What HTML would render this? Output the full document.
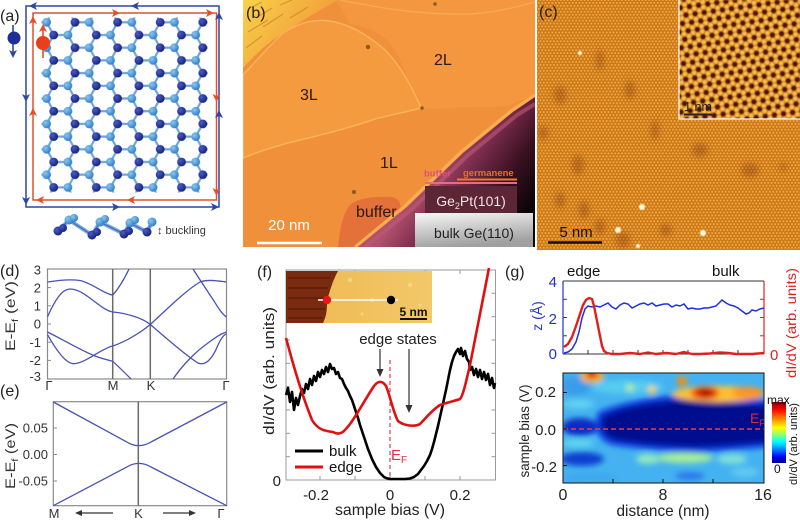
<!DOCTYPE html>
<html><head><meta charset="utf-8">
<style>
html,body{margin:0;padding:0;background:#fff;width:800px;height:522px;overflow:hidden}
svg{display:block}
text{font-family:"Liberation Sans",Arial,sans-serif}
</style></head><body>
<svg xmlns="http://www.w3.org/2000/svg" width="800" height="522" viewBox="0 0 800 522">
<defs>
<radialGradient id="gAd" cx="0.35" cy="0.35" r="0.7"><stop offset="0" stop-color="#4a5cc4"/><stop offset="1" stop-color="#141e78"/></radialGradient>
<radialGradient id="gAl" cx="0.35" cy="0.35" r="0.7"><stop offset="0" stop-color="#8cc6f0"/><stop offset="1" stop-color="#2c7cc4"/></radialGradient>
<pattern id="hc" patternUnits="userSpaceOnUse" x="67.9" y="22.3" width="42.6" height="25.4">
<path d="M7.1,0H21.3L28.4,12.7H42.6M28.4,12.7L21.3,25.4H7.1L0,12.7L7.1,0" fill="none" stroke="#6ea4dc" stroke-width="2.2"/>
<circle cx="7.1" cy="0" r="4.4" fill="url(#gAd)"/>
<circle cx="7.1" cy="25.4" r="4.4" fill="url(#gAd)"/>
<circle cx="28.4" cy="12.7" r="4.4" fill="url(#gAd)"/>
<circle cx="21.3" cy="0" r="4.4" fill="url(#gAl)"/>
<circle cx="21.3" cy="25.4" r="4.4" fill="url(#gAl)"/>
<circle cx="0" cy="12.7" r="4.4" fill="url(#gAl)"/>
<circle cx="42.6" cy="12.7" r="4.4" fill="url(#gAl)"/>
</pattern>
<pattern id="cdots" patternUnits="userSpaceOnUse" x="537" y="0" width="3.4" height="5.9">
<rect width="3.4" height="5.9" fill="#d07818"/>
<circle cx="0" cy="0" r="0.95" fill="#eeb048"/><circle cx="3.4" cy="0" r="0.95" fill="#eeb048"/>
<circle cx="0" cy="5.9" r="0.95" fill="#eeb048"/><circle cx="3.4" cy="5.9" r="0.95" fill="#eeb048"/>
<circle cx="1.7" cy="2.95" r="0.95" fill="#eeb048"/>
</pattern>
<pattern id="inpat" patternUnits="userSpaceOnUse" x="679" y="0" width="9.2" height="15.9" patternTransform="rotate(-8 740 60)">
<rect width="9.2" height="15.9" fill="#dc8024"/>
<circle cx="4.6" cy="2.65" r="2.0" fill="#f4c050"/><circle cx="0" cy="5.3" r="2.0" fill="#f4c050"/><circle cx="9.2" cy="5.3" r="2.0" fill="#f4c050"/>
<circle cx="0" cy="10.6" r="2.0" fill="#f4c050"/><circle cx="9.2" cy="10.6" r="2.0" fill="#f4c050"/><circle cx="4.6" cy="13.25" r="2.0" fill="#f4c050"/>
<circle cx="0" cy="0" r="2.7" fill="#4a1600"/><circle cx="9.2" cy="0" r="2.7" fill="#4a1600"/><circle cx="4.6" cy="7.95" r="2.7" fill="#4a1600"/>
<circle cx="0" cy="15.9" r="2.7" fill="#4a1600"/><circle cx="9.2" cy="15.9" r="2.7" fill="#4a1600"/>
</pattern>
<filter id="bl1"><feGaussianBlur stdDeviation="0.6"/></filter>
<filter id="bl3" x="-30%" y="-30%" width="160%" height="160%"><feGaussianBlur stdDeviation="3"/></filter>
<filter id="bl2" x="-30%" y="-30%" width="160%" height="160%"><feGaussianBlur stdDeviation="2"/></filter>
<linearGradient id="gDark" gradientUnits="userSpaceOnUse" x1="430" y1="170" x2="515" y2="230">
<stop offset="0" stop-color="#b0506c"/><stop offset="0.3" stop-color="#7a2c4c"/><stop offset="0.65" stop-color="#3a1020"/><stop offset="1" stop-color="#0c0408"/></linearGradient>
<linearGradient id="gBulk" x1="0" y1="0" x2="0.3" y2="1"><stop offset="0" stop-color="#f8f8f8"/><stop offset="1" stop-color="#a0a0a0"/></linearGradient>
<linearGradient id="gTL" gradientUnits="userSpaceOnUse" x1="243" y1="0" x2="300" y2="45"><stop offset="0" stop-color="#f8d24c"/><stop offset="1" stop-color="#f2a43a"/></linearGradient>
<linearGradient id="gIns" x1="0" y1="0" x2="1" y2="0"><stop offset="0" stop-color="#e09030"/><stop offset="0.25" stop-color="#f0bc58"/><stop offset="1" stop-color="#f2c868"/></linearGradient>
<linearGradient id="gJet" x1="0" y1="0" x2="0" y2="1">
<stop offset="0" stop-color="#800000"/><stop offset="0.12" stop-color="#ff0000"/><stop offset="0.3" stop-color="#ff9900"/><stop offset="0.42" stop-color="#ffff00"/><stop offset="0.55" stop-color="#80ff80"/><stop offset="0.65" stop-color="#00ffff"/><stop offset="0.78" stop-color="#0080ff"/><stop offset="0.9" stop-color="#0000ff"/><stop offset="1" stop-color="#00008f"/></linearGradient>
<clipPath id="cLat"><rect x="41.5" y="17.5" width="166.3" height="175"/></clipPath>
<clipPath id="cB"><rect x="243" y="0" width="292" height="247"/></clipPath>
<clipPath id="cC"><rect x="537" y="0" width="263" height="250"/></clipPath>
<clipPath id="cIn"><rect x="679" y="0" width="121" height="119"/></clipPath>
<clipPath id="cHM"><rect x="563" y="373" width="201" height="110"/></clipPath>
<clipPath id="cFi"><rect x="286" y="271" width="146" height="52"/></clipPath>
</defs>

<rect width="800" height="522" fill="#fff"/>

<!-- ===== (a) ===== -->
<text x="0" y="21" font-size="16" fill="#222">(a)</text>
<rect x="26" y="6" width="193" height="201" fill="none" stroke="#2c46a8" stroke-width="1.5"/>
<rect x="33" y="13" width="183.5" height="187" fill="none" stroke="#e0502a" stroke-width="1.5"/>
<g fill="#2c46a8">
<polygon points="29,6 37,2 35,6 37,10"/><polygon points="131,6 139,2 137,6 139,10"/>
<polygon points="120,207 112,203 114,207 112,211"/><polygon points="219,207 211,203 213,207 211,211"/>
<polygon points="219,12 215,20 219,18 223,20"/><polygon points="219,110 215,118 219,116 223,118"/>
<polygon points="26,102 22,94 26,96 30,94"/><polygon points="26,205 22,197 26,199 30,197"/>
</g>
<g fill="#e0502a">
<polygon points="120,13 112,9 114,13 112,17"/><polygon points="214,13 206,9 208,13 206,17"/>
<polygon points="216.5,102 212.5,94 216.5,96 220.5,94"/><polygon points="216.5,196 212.5,188 216.5,190 220.5,188"/>
<polygon points="127,200 135,196 133,200 135,204"/><polygon points="36,200 44,196 42,200 44,204"/>
<polygon points="33,108 29,116 33,114 37,116"/><polygon points="33,16 29,24 33,22 37,24"/>
</g>
<rect x="41.5" y="17.5" width="166.3" height="175" fill="url(#hc)" clip-path="url(#cLat)"/>
<line x1="13" y1="25" x2="13" y2="54" stroke="#2c46a8" stroke-width="1.6"/>
<polygon points="13,58 9,50 13,52 17,50" fill="#2c46a8"/>
<circle cx="14" cy="38" r="6.5" fill="#1e2f9a"/>
<line x1="43" y1="58" x2="43" y2="28" stroke="#e0502a" stroke-width="1.6"/>
<polygon points="43,24 39,32 43,30 47,32" fill="#e0502a"/>
<circle cx="43" cy="43" r="7" fill="#e8401c"/>
<!-- buckling -->
<polyline points="58,231 69,220 92,235 100,222 124,234 130,223 147,232 152,222" fill="none" stroke="#7aa8dc" stroke-width="4"/>
<polyline points="58,231 69,220 92,235 100,222 124,234 130,223 147,232 152,222" fill="none" stroke="#3a62b0" stroke-width="1"/>
<g fill="url(#gAl)"><circle cx="69" cy="220" r="4.5"/><circle cx="100" cy="222" r="4.5"/><circle cx="130" cy="223" r="4.5"/><circle cx="152" cy="222" r="4.5"/><circle cx="74" cy="218" r="4"/><circle cx="105" cy="219" r="4"/><circle cx="135" cy="220" r="4"/></g>
<g fill="url(#gAd)"><circle cx="58" cy="231" r="4.5"/><circle cx="92" cy="235" r="4.5"/><circle cx="124" cy="234" r="4.5"/><circle cx="147" cy="232" r="4.5"/><circle cx="63" cy="228" r="4"/><circle cx="97" cy="232" r="4"/><circle cx="129" cy="231" r="4"/></g>
<text x="157" y="234" font-size="11" fill="#333">↕ buckling</text>

<!-- ===== (b) ===== -->
<g clip-path="url(#cB)">
<rect x="243" y="0" width="292" height="247" fill="#f0903a"/>
<path d="M335,0 L535,0 L535,97 C525,99 520,100 512,104 C500,108 485,107 468,107 C450,108 435,110 421,108 C412,90 405,70 395,50 C385,35 370,27 350,24 C345,15 340,6 335,0 Z" fill="#f4973e"/>
<path d="M340,0 C380,8 420,15 470,14 C500,12 520,6 535,2" fill="none" stroke="#f7ac55" stroke-width="1.2"/>
<path d="M243,0 L338,0 C320,10 300,22 280,35 C265,45 252,58 243,68 Z" fill="url(#gTL)"/>
<g stroke="#c27020" stroke-width="1.2" opacity="0.55">
<line x1="250" y1="8" x2="262" y2="2"/><line x1="256" y1="18" x2="272" y2="8"/><line x1="263" y1="27" x2="283" y2="14"/><line x1="248" y1="32" x2="268" y2="20"/><line x1="246" y1="48" x2="262" y2="36"/><line x1="280" y1="5" x2="292" y2="0"/><line x1="290" y1="18" x2="308" y2="7"/>
</g>
<path d="M243,75 C255,62 270,45 283,33 C300,22 318,18 335,22 C352,26 368,35 385,50 C398,63 408,80 415,95 C418,101 420,105 421,108 C410,111 395,114 375,119 C355,126 330,133 300,140 C275,146 255,153 243,158 Z" fill="#f49b40" stroke="#f9b35a" stroke-width="1.5"/>
<path d="M338,247 C340,230 342,215 350,205 C358,198 375,196 392,197 C400,199 403,205 398,218 C394,230 390,240 388,247 Z" fill="#e4703a"/>
<path d="M358,247 L407,207 L463,153 L513,112 L535,97 L535,247 Z" fill="url(#gDark)"/>
<path d="M365,247 L412,209 L467,156 L517,115 L535,104" fill="none" stroke="#c05a78" stroke-width="4" opacity="0.6"/>
<path d="M355,247 L405,206 L461,152 L511,111 L535,95" fill="none" stroke="#f8ae55" stroke-width="3"/>
<g fill="#8a5a20"><circle cx="368" cy="47" r="2.2"/><circle cx="422" cy="108" r="1.8"/><circle cx="354" cy="192" r="2"/><circle cx="435" cy="4" r="1.8"/></g>
</g>
<rect x="415" y="213" width="118" height="34" fill="url(#gBulk)"/>
<rect x="425" y="186" width="92" height="27" fill="#5c2636"/>
<line x1="425" y1="183" x2="517" y2="183" stroke="#e86a88" stroke-width="2"/>
<line x1="457" y1="179.5" x2="517" y2="179.5" stroke="#f07a2a" stroke-width="2"/>
<text x="424" y="176.5" font-size="9.5" font-weight="bold" fill="#e0507a">buffer</text>
<text x="463" y="176" font-size="9.5" font-weight="bold" fill="#f07020">germanene</text>
<text x="471" y="206" font-size="14" fill="#f0e4e4" text-anchor="middle">Ge<tspan font-size="9" dy="3">2</tspan><tspan dy="-3">Pt(101)</tspan></text>
<text x="474" y="238" font-size="14" fill="#222" text-anchor="middle">bulk Ge(110)</text>
<line x1="257" y1="243" x2="322" y2="243" stroke="#fff" stroke-width="2.5"/>
<text x="289" y="230" font-size="15" fill="#fff" text-anchor="middle">20 nm</text>
<g font-size="16" fill="#2a1a10">
<text x="246" y="18">(b)</text>
<text x="300" y="100">3L</text>
<text x="434" y="65">2L</text>
<text x="380" y="168">1L</text>
<text x="356" y="217">buffer</text>
</g>

<!-- ===== (c) ===== -->
<g clip-path="url(#cC)">
<rect x="537" y="0" width="263" height="250" fill="url(#cdots)"/>
<g filter="url(#bl3)" fill="#7a3008" opacity="0.35">
<ellipse cx="578" cy="165" rx="6" ry="10"/><ellipse cx="584" cy="210" rx="5" ry="9"/><ellipse cx="623" cy="240" rx="7" ry="8"/>
<ellipse cx="543" cy="133" rx="5" ry="7"/><ellipse cx="750" cy="170" rx="9" ry="7"/><ellipse cx="783" cy="167" rx="4" ry="4"/>
<ellipse cx="666" cy="230" rx="6" ry="6"/><ellipse cx="630" cy="90" rx="5" ry="9"/><ellipse cx="600" cy="227" rx="5" ry="8"/>
<ellipse cx="560" cy="95" rx="6" ry="9"/><ellipse cx="700" cy="150" rx="8" ry="7"/><ellipse cx="560" cy="200" rx="5" ry="8"/>
<ellipse cx="600" cy="60" rx="4" ry="10"/><ellipse cx="655" cy="130" rx="4" ry="10"/>
</g>
<g filter="url(#bl1)" fill="#fffbe0">
<circle cx="642" cy="207" r="3"/><circle cx="618" cy="230" r="3"/><circle cx="703" cy="233" r="3"/><circle cx="580" cy="53" r="2"/><circle cx="638" cy="246" r="2"/>
</g>
</g>
<g clip-path="url(#cIn)">
<rect x="679" y="0" width="121" height="119" fill="url(#inpat)" filter="url(#bl1)"/>
</g>
<rect x="679" y="-1" width="122" height="120" fill="none" stroke="#fff" stroke-width="1.2"/>
<line x1="684" y1="114.5" x2="712" y2="114.5" stroke="#222" stroke-width="2"/>
<text x="698" y="111" font-size="12.5" fill="#222" text-anchor="middle">1 nm</text>
<line x1="548" y1="242.5" x2="602" y2="242.5" stroke="#111" stroke-width="2.5"/>
<text x="576" y="237" font-size="15" fill="#111" text-anchor="middle">5 nm</text>
<text x="539" y="17" font-size="16" fill="#222">(c)</text>

<!-- ===== (d) ===== -->
<text x="0" y="276" font-size="16" fill="#222">(d)</text>
<rect x="47.5" y="269" width="179" height="110" fill="none" stroke="#8a8a8a" stroke-width="1.2"/>
<line x1="112.7" y1="269" x2="112.7" y2="379" stroke="#6a6a6a" stroke-width="1.5"/>
<line x1="150.3" y1="269" x2="150.3" y2="379" stroke="#6a6a6a" stroke-width="1.5"/>
<g stroke="#8a8a8a" stroke-width="1"><line x1="47.5" y1="287.6" x2="51" y2="287.6"/><line x1="47.5" y1="305.8" x2="51" y2="305.8"/><line x1="47.5" y1="324" x2="51" y2="324"/><line x1="47.5" y1="342.2" x2="51" y2="342.2"/><line x1="47.5" y1="360.4" x2="51" y2="360.4"/></g>
<g fill="none" stroke="#4a52b4" stroke-width="1.3">
<path d="M47.5,282 C60,280 70,279 80,280.5 C92,283 104,294 112.7,295 C116,292 124,280 129,269"/>
<path d="M47.5,316.7 C55,300 62,289 70,289 C85,289 100,310 112.7,312 C120,312.5 140,316 150.3,324.5 C165,337 185,355 198,363 C205,366 212,360 218,345 C221,338 224,335 226.5,333.7"/>
<path d="M47.5,332 C60,338 80,350 95,356 C103,359 108,360 112.7,361.3 C118,366 125,373 131,379"/>
<path d="M47.5,334.7 C55,348 65,363 73,363.7 C85,364 100,349 112.7,346 C125,342 140,333 150.3,324.5 C165,311 185,291 200,282 C208,279 218,281 226.5,282"/>
<path d="M193,269 C200,280 208,292 214,301 C219,309 222,314 226.5,317"/>
<path d="M173,379 C182,366 195,352 208,343 C215,338 220,334 226.5,332"/>
</g>
<g font-size="13" fill="#333" text-anchor="end">
<text x="41" y="274.5">3</text><text x="41" y="292.5">2</text><text x="41" y="310.5">1</text><text x="41" y="328.5">0</text><text x="41" y="347">-1</text><text x="41" y="365">-2</text><text x="41" y="381">-3</text>
</g>
<g font-size="13" fill="#333" text-anchor="middle">
<text x="49" y="390">Γ</text><text x="113" y="390">M</text><text x="151" y="390">K</text><text x="226" y="390">Γ</text>
</g>
<text transform="rotate(-90 10 316)" x="10" y="321" font-size="14" fill="#333" text-anchor="middle" textLength="70" lengthAdjust="spacingAndGlyphs">E-E<tspan font-size="9" dy="3">f</tspan><tspan dy="-3"> (eV)</tspan></text>

<!-- ===== (e) ===== -->
<text x="0" y="396" font-size="16" fill="#222">(e)</text>
<rect x="53.3" y="401.7" width="173.4" height="104" fill="none" stroke="#8a8a8a" stroke-width="1.2"/>
<line x1="138.3" y1="401.7" x2="138.3" y2="505.7" stroke="#6a6a6a" stroke-width="1.5"/>
<g stroke="#8a8a8a" stroke-width="1"><line x1="53.3" y1="428" x2="57" y2="428"/><line x1="53.3" y1="454.5" x2="57" y2="454.5"/><line x1="53.3" y1="481" x2="57" y2="481"/></g>
<g fill="none" stroke="#4a52b4" stroke-width="1.3">
<path d="M53.3,402 L126,441.5 Q138.3,449.5 151,442 L226.7,402"/>
<path d="M53.3,505.7 L126,467.5 Q138.3,459.5 151,467 L226.7,505.7"/>
</g>
<g font-size="13" fill="#333" text-anchor="end">
<text x="48" y="432.5">0.05</text><text x="48" y="459">0.00</text><text x="48" y="485.5">-0.05</text>
</g>
<g font-size="13" fill="#333" text-anchor="middle">
<text x="54" y="518">M</text><text x="138.5" y="518">K</text><text x="221" y="518">Γ</text>
</g>
<line x1="113" y1="513" x2="80" y2="513" stroke="#333" stroke-width="1.2"/><polygon points="75,513 82,510 82,516" fill="#333"/>
<line x1="163" y1="513" x2="190" y2="513" stroke="#333" stroke-width="1.2"/><polygon points="196,513 189,510 189,516" fill="#333"/>
<text transform="rotate(-90 10 456)" x="10" y="461" font-size="14" fill="#333" text-anchor="middle" textLength="66" lengthAdjust="spacingAndGlyphs">E-E<tspan font-size="9" dy="3">f</tspan><tspan dy="-3"> (eV)</tspan></text>

<!-- ===== (f) ===== -->
<text x="257" y="277" font-size="16" fill="#222">(f)</text>
<rect x="286" y="270" width="209.5" height="210" fill="none" stroke="#9a9a9a" stroke-width="1"/>
<g stroke="#9a9a9a" stroke-width="1">
<line x1="286" y1="456.7" x2="290" y2="456.7"/><line x1="286" y1="433.3" x2="290" y2="433.3"/><line x1="286" y1="410" x2="290" y2="410"/><line x1="286" y1="386.7" x2="290" y2="386.7"/><line x1="286" y1="363.3" x2="290" y2="363.3"/><line x1="286" y1="340" x2="290" y2="340"/>
<line x1="495.5" y1="456.7" x2="491.5" y2="456.7"/><line x1="495.5" y1="433.3" x2="491.5" y2="433.3"/><line x1="495.5" y1="410" x2="491.5" y2="410"/><line x1="495.5" y1="386.7" x2="491.5" y2="386.7"/><line x1="495.5" y1="363.3" x2="491.5" y2="363.3"/><line x1="495.5" y1="340" x2="491.5" y2="340"/><line x1="495.5" y1="316.7" x2="491.5" y2="316.7"/><line x1="495.5" y1="293.3" x2="491.5" y2="293.3"/>
<line x1="320" y1="480" x2="320" y2="476"/><line x1="355" y1="480" x2="355" y2="476"/><line x1="390" y1="480" x2="390" y2="476"/><line x1="425" y1="480" x2="425" y2="476"/><line x1="460" y1="480" x2="460" y2="476"/>
<line x1="460" y1="270" x2="460" y2="274"/><line x1="425" y1="270" x2="425" y2="274"/><line x1="355" y1="270" x2="355" y2="274"/>
</g>
<line x1="390" y1="360" x2="390" y2="480" stroke="#e04050" stroke-width="1.2" stroke-dasharray="4,3"/>
<polyline fill="none" stroke="#000" stroke-width="2.6" stroke-linejoin="round" points="286,395 288,388 290,402 292,392 294,410 296,398 298,405 300,396 302,389 304,393 306,384 308,389 310,379 312,385 314,376 316,381 318,372 320,377 322,370 324,374 326,367 328,372 330,364 332,369 334,368 336,374 338,372 340,378 342,379 344,384 346,388 348,391 350,396 352,400 354,406 356,412 358,418 360,425 362,431 364,437 366,443 368,449 370,454 372,459 374,463 376,467 378,470 380,473 382,475 384,477 386,478 390,479 395,479 400,479 405,479 410,478.5 414,477 418,474 421,470 424,466 427,461 430,455 432,449 434,442 436,434 438,426 440,417 442,408 444,399 446,390 448,380 450,370 452,362 454,356 456,352 458,349 460,354 461,348 463,356 465,351 467,359 469,362 470,370 472,367 474,375 476,369 478,377 480,370 482,379 484,372 486,380 488,374 490,385 492,378 494,388 495,383"/>
<path fill="none" stroke="#e01010" stroke-width="2.6" d="M286,338 C292,360 300,390 312,420 C318,430 325,431 333,432 C340,436 344,432 350,424 C358,413 366,398 374,386 C378,381 382,380 386,386 C390,395 393,412 398,421 C404,426 415,427 420,424 C426,418 432,410 440,405 C448,402 455,401 460,399 C463,396 466,382 470,365 C475,340 481,310 489,268"/>
<!-- inset -->
<g clip-path="url(#cFi)">
<rect x="286" y="271" width="146" height="52" fill="url(#gIns)"/>
<path d="M286,271 L338,271 C333,280 330,290 327,301 C327,308 327,315 323,323 L286,323 Z" fill="#7a2a0e"/>
<g stroke="#4a1404" stroke-width="1.5" opacity="0.6"><line x1="288" y1="278" x2="330" y2="278"/><line x1="288" y1="288" x2="328" y2="288"/><line x1="288" y1="298" x2="326" y2="298"/><line x1="288" y1="309" x2="325" y2="309"/><line x1="288" y1="318" x2="323" y2="318"/></g>
<g fill="#fbe2a0" opacity="0.6"><circle cx="350" cy="280" r="2"/><circle cx="372" cy="300" r="2"/><circle cx="410" cy="285" r="2"/><circle cx="362" cy="314" r="1.5"/><circle cx="420" cy="305" r="1.5"/></g>
</g>
<line x1="318" y1="300" x2="398" y2="300" stroke="#fff" stroke-width="1.6"/>
<circle cx="327" cy="300" r="4.2" fill="#e81818"/>
<circle cx="391" cy="300" r="4.2" fill="#000"/>
<line x1="400" y1="319" x2="427" y2="319" stroke="#111" stroke-width="2"/>
<text x="413.5" y="316" font-size="12" font-weight="bold" fill="#111" text-anchor="middle">5 nm</text>
<!-- arrows -->
<line x1="380" y1="349" x2="380" y2="372" stroke="#333" stroke-width="1.2"/><polygon points="380,377 376.5,369 383.5,369" fill="#333"/>
<line x1="409" y1="349" x2="409" y2="408" stroke="#333" stroke-width="1.2"/><polygon points="409,413 405.5,405 412.5,405" fill="#333"/>
<text x="398" y="344" font-size="15" fill="#222" text-anchor="middle">edge states</text>
<line x1="295" y1="451" x2="323" y2="451" stroke="#000" stroke-width="3"/>
<line x1="295" y1="467" x2="323" y2="467" stroke="#e01010" stroke-width="3"/>
<text x="329" y="456" font-size="15" fill="#111">bulk</text>
<text x="329" y="472" font-size="15" fill="#111">edge</text>
<text x="391" y="460" font-size="15" fill="#e03040">E<tspan font-size="10" dy="3">F</tspan></text>
<text x="281" y="486" font-size="15" fill="#222" text-anchor="end">0</text>
<g font-size="15" fill="#222" text-anchor="middle">
<text x="316" y="500">-0.2</text><text x="390" y="500">0</text><text x="460" y="500">0.2</text>
</g>
<text x="390" y="515" font-size="16" fill="#222" text-anchor="middle" textLength="110" lengthAdjust="spacingAndGlyphs">sample bias (V)</text>
<text transform="rotate(-90 269 371)" x="269" y="376" font-size="15" fill="#222" text-anchor="middle" textLength="128" lengthAdjust="spacingAndGlyphs">dI/dV (arb. units)</text>

<!-- ===== (g) ===== -->
<text x="505" y="277" font-size="16" fill="#222">(g)</text>
<text x="567" y="276" font-size="15" fill="#111">edge</text>
<text x="712" y="276" font-size="15" fill="#111">bulk</text>
<line x1="563" y1="281" x2="764" y2="281" stroke="#333" stroke-width="1"/>
<line x1="563" y1="354" x2="764" y2="354" stroke="#333" stroke-width="1"/>
<line x1="563" y1="281" x2="563" y2="354" stroke="#2233cc" stroke-width="1.2"/>
<line x1="764" y1="281" x2="764" y2="354" stroke="#dd2222" stroke-width="1.2"/>
<g stroke="#2233cc" stroke-width="1"><line x1="563" y1="299.3" x2="567" y2="299.3"/><line x1="563" y1="317.5" x2="567" y2="317.5"/><line x1="563" y1="335.8" x2="567" y2="335.8"/></g>
<g stroke="#dd2222" stroke-width="1"><line x1="764" y1="299.3" x2="760" y2="299.3"/><line x1="764" y1="317.5" x2="760" y2="317.5"/><line x1="764" y1="335.8" x2="760" y2="335.8"/></g>
<g stroke="#333" stroke-width="1"><line x1="588" y1="354" x2="588" y2="350"/><line x1="613" y1="354" x2="613" y2="350"/><line x1="638" y1="354" x2="638" y2="350"/><line x1="663" y1="354" x2="663" y2="350"/><line x1="688" y1="354" x2="688" y2="350"/><line x1="713" y1="354" x2="713" y2="350"/><line x1="738" y1="354" x2="738" y2="350"/></g>
<polyline fill="none" stroke="#1f2fd8" stroke-width="1.5" points="564,353 568,352 572,349 576,342 579,332 582,318 585,309 588,306 592,307 596,306 600,307 604,305 608,303 612,307 616,309 620,305 624,303 628,304 632,308 636,306 640,304 644,303 648,305 652,303 656,306 660,305 664,304 668,304 672,307 676,305 680,306 684,304 688,309 692,308 696,309 700,309 704,308 708,308 712,307 716,306 720,302 722,300 726,303 730,305 734,306 738,308 742,311 746,314 749,313 752,310 756,311 760,309 764,308"/>
<polyline fill="none" stroke="#e02020" stroke-width="2.4" stroke-linejoin="round" points="564,347 568,344 572,337 576,326 580,314 583,305 586,300 589,298 592,299 594,306 596,316 598,326 600,336 602,346 604,351 607,353 612,354 620,354 630,353 640,354 648,352.5 656,354 666,353 676,354 684,352 692,354 700,354 710,353.5 720,352.5 728,353 736,354 744,354 752,354 764,353"/>
<g font-size="15" fill="#2233cc" text-anchor="end"><text x="557" y="287">4</text><text x="557" y="324">2</text><text x="557" y="359">0</text></g>
<text x="770" y="360" font-size="15" fill="#dd2222">0</text>
<text transform="rotate(-90 537 316)" x="537" y="321" font-size="14" fill="#2233cc" text-anchor="middle">z (Å)</text>
<text transform="rotate(-90 791 323)" x="791" y="328" font-size="14" fill="#dd2222" text-anchor="middle" textLength="110" lengthAdjust="spacingAndGlyphs">dI/dV (arb. units)</text>
<!-- heatmap -->
<g clip-path="url(#cHM)">
<rect x="563" y="373" width="201" height="110" fill="#44b2f0"/>
<g filter="url(#bl3)">
<ellipse cx="576" cy="386" rx="14" ry="10" fill="#3a9cec"/>
<ellipse cx="578" cy="404" rx="16" ry="5" fill="#62d0f0"/>
<ellipse cx="580" cy="427" rx="18" ry="9" fill="#0a2cc4"/>
<ellipse cx="578" cy="443" rx="16" ry="4" fill="#60d6f0"/>
<ellipse cx="582" cy="459" rx="22" ry="7" fill="#1040d0"/>
<ellipse cx="590" cy="478" rx="30" ry="5" fill="#40a8ee"/>
<path d="M598,412 C615,404 650,396 682,395 C710,396 740,399 770,400 L770,447 C740,450 700,453 688,452 C660,451 630,448 612,445 C600,441 592,430 598,412 Z" fill="#0a3ae0"/>
<path d="M603,416 C618,408 650,402 682,400 C710,401 740,404 770,405 L770,442 C740,445 700,448 688,447 C660,446 630,443 614,440 C604,437 598,428 603,416 Z" fill="#00088e"/>
<ellipse cx="628" cy="387" rx="36" ry="7" fill="#56ccf0"/>
<ellipse cx="592" cy="376" rx="12" ry="7" fill="#ffb020"/>
<ellipse cx="592" cy="374" rx="6" ry="4" fill="#d01010"/>
<ellipse cx="718" cy="394" rx="46" ry="8" fill="#ffc030"/>
<ellipse cx="748" cy="393" rx="16" ry="6" fill="#ff9420"/>
<ellipse cx="705" cy="393" rx="14" ry="6" fill="#ee3000"/>
<ellipse cx="706" cy="393" rx="7" ry="3.5" fill="#a00000"/>
<circle cx="682" cy="381" r="5" fill="#ff8c00"/>
<circle cx="652" cy="390" r="4" fill="#ffd040"/>
<circle cx="630" cy="388" r="4" fill="#b0f0a0"/>
<ellipse cx="685" cy="458" rx="28" ry="5" fill="#a8ee98"/>
<ellipse cx="648" cy="459" rx="12" ry="5" fill="#90e8c0"/>
<ellipse cx="732" cy="459" rx="15" ry="5" fill="#80e0d8"/>
<ellipse cx="690" cy="476" rx="15" ry="4" fill="#2a78e8"/>
<ellipse cx="745" cy="472" rx="14" ry="5" fill="#60c8f0"/>
</g>
<line x1="563" y1="429" x2="764" y2="429" stroke="#e04050" stroke-width="1.5" stroke-dasharray="5,3"/>
</g>
<rect x="563" y="373" width="201" height="110" fill="none" stroke="#111" stroke-width="1"/>
<g stroke="#111" stroke-width="1"><line x1="563" y1="392.5" x2="567" y2="392.5"/><line x1="563" y1="429" x2="567" y2="429"/><line x1="563" y1="465.5" x2="567" y2="465.5"/><line x1="613" y1="483" x2="613" y2="479"/><line x1="663" y1="483" x2="663" y2="479"/><line x1="713" y1="483" x2="713" y2="479"/></g>
<text x="750" y="423" font-size="14" fill="#d03040">E<tspan font-size="9" dy="3">F</tspan></text>
<rect x="772" y="402" width="14" height="61" fill="url(#gJet)"/>
<text x="767" y="404" font-size="12" fill="#111">max</text>
<text x="774" y="473" font-size="12" fill="#111">0</text>
<text transform="rotate(-90 793 444)" x="793" y="448" font-size="11" fill="#111" text-anchor="middle" textLength="82" lengthAdjust="spacingAndGlyphs">dI/dV (arb. units)</text>
<g font-size="15" fill="#222" text-anchor="end"><text x="556" y="397">0.2</text><text x="556" y="435">0.0</text><text x="557" y="472">-0.2</text></g>
<g font-size="16" fill="#222" text-anchor="middle"><text x="563" y="500">0</text><text x="663" y="500">8</text><text x="763" y="500">16</text></g>
<text x="663" y="516" font-size="16" fill="#222" text-anchor="middle" textLength="93" lengthAdjust="spacingAndGlyphs">distance (nm)</text>
<text transform="rotate(-90 524 431)" x="524" y="436" font-size="14" fill="#222" text-anchor="middle" textLength="93" lengthAdjust="spacingAndGlyphs">sample bias (V)</text>
</svg>
</body></html>
